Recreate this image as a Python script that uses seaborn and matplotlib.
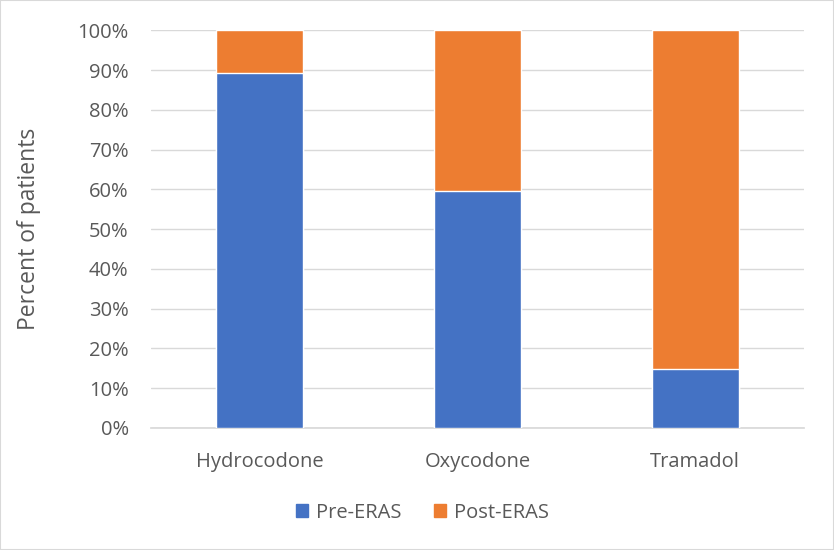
import matplotlib.pyplot as plt
import seaborn as sns
import pandas as pd
from matplotlib.patches import Patch
from matplotlib.ticker import PercentFormatter

drugs = ["Hydrocodone", "Oxycodone", "Tramadol"]
pre_eras = [89.2, 59.7, 14.7]
post_eras = [10.8, 40.3, 85.3]

BLUE = "#4472C4"
ORANGE = "#ED7D31"
TEXT = "#595959"

sns.set_theme(style="white")
plt.rcParams["font.family"] = ["Open Sans", "DejaVu Sans"]

df = pd.DataFrame({"Drug": drugs, "Pre": pre_eras, "Post": post_eras})
df["Total"] = df["Pre"] + df["Post"]

fig = plt.figure(figsize=(8.34, 5.5), dpi=100)
ax = fig.add_axes([0.181, 0.222, 0.783, 0.723])

# stacked: full bar in orange, then the pre-ERAS part in blue over it
sns.barplot(data=df, x="Drug", y="Total", color=ORANGE, width=0.40,
            saturation=1, ax=ax, zorder=3)
sns.barplot(data=df, x="Drug", y="Pre", color=BLUE, width=0.40,
            saturation=1, ax=ax, zorder=3)

ax.set_ylim(0, 100)
ax.set_xlim(-0.5, 2.5)
ax.set_yticks(range(0, 101, 10))
ax.yaxis.set_major_formatter(PercentFormatter(decimals=0))
ax.grid(axis="y", color="#D9D9D9", linewidth=1, zorder=0)
ax.set_axisbelow(True)
for s in ["top", "right", "left"]:
    ax.spines[s].set_visible(False)
ax.spines["bottom"].set_color("#D9D9D9")
ax.tick_params(axis="both", length=0, labelsize=14.5, colors=TEXT)
ax.tick_params(axis="x", pad=17)
ax.tick_params(axis="y", pad=16)
ax.set_xlabel("")
ax.set_ylabel("Percent of patients", fontsize=16.5, color=TEXT, labelpad=26)

handles = [Patch(color=BLUE, label="Pre-ERAS"), Patch(color=ORANGE, label="Post-ERAS")]
fig.legend(handles=handles, loc="center", bbox_to_anchor=(0.507, 0.068), ncol=2,
           frameon=False, fontsize=14.5, labelcolor=TEXT, handlelength=0.6,
           handleheight=0.6, columnspacing=1.6, handletextpad=0.4)

fig.patches.append(plt.Rectangle((0, 0), 1, 1, transform=fig.transFigure,
                                 fill=False, edgecolor="#D9D9D9", linewidth=1.5))

fig.savefig("out.png", dpi=100)
